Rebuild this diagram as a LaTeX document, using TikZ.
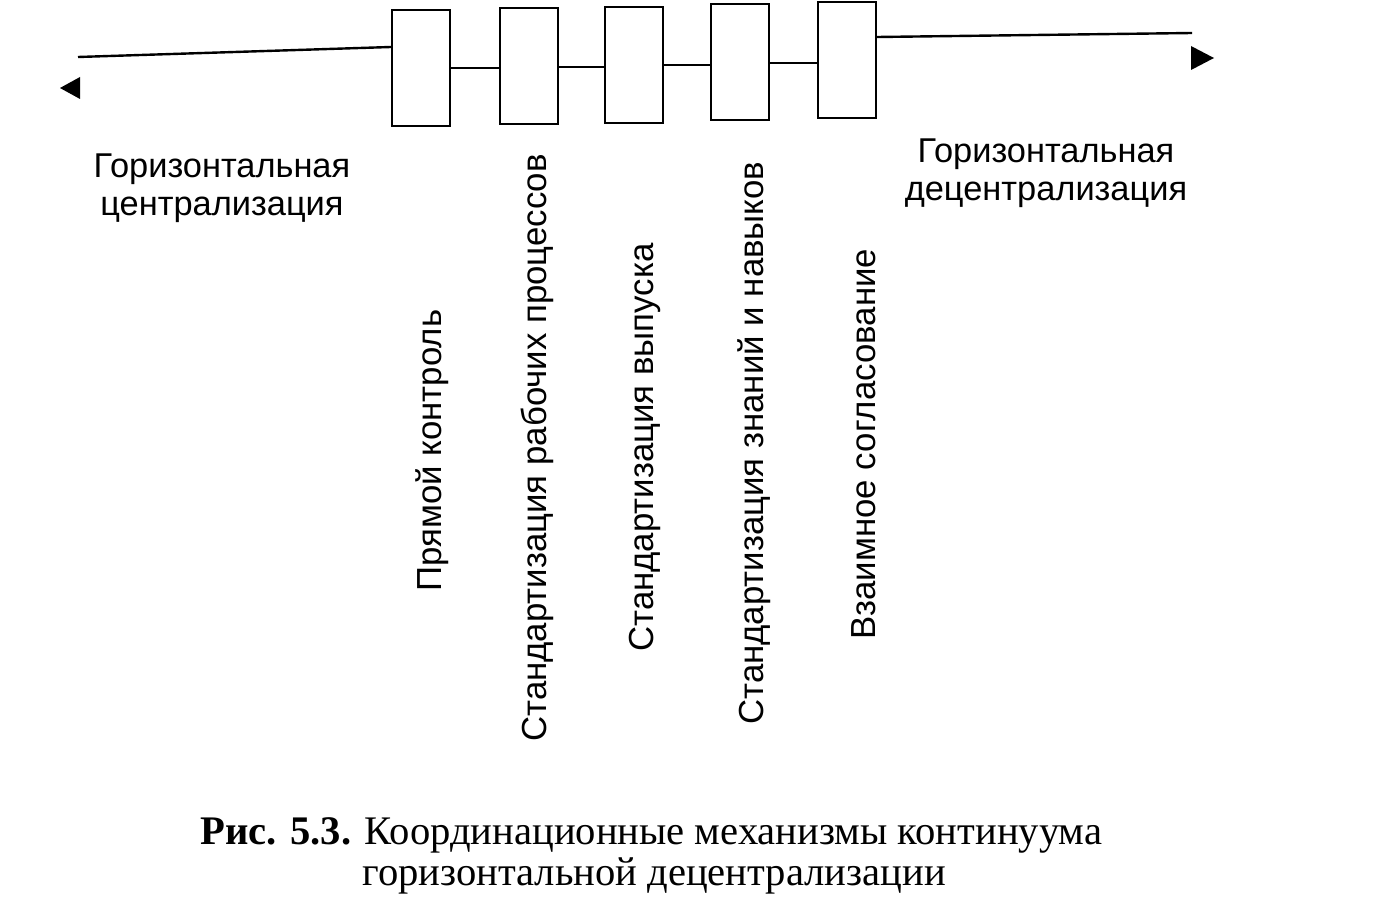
\documentclass[tikz,border=0pt]{standalone}
\usepackage{fontspec}
\setmainfont{Liberation Serif}
\newfontfamily\lsans{Liberation Sans}
\begin{document}
\begin{tikzpicture}[x=0.5pt,y=-0.5pt,
  box/.style={draw,line width=1.2pt,minimum width=29pt,minimum height=58pt,inner sep=0pt},
  lab/.style={rotate=90,anchor=west,font=\lsans\fontsize{17.4}{20}\selectfont,inner sep=0pt},
  side/.style={font=\lsans\fontsize{17.2}{19}\selectfont,align=center},
  ln/.style={line width=1.2pt}]
\useasboundingbox (0,0) rectangle (1392,920);
\node[box] (b1) at (421,68) {};
\node[box] (b2) at (529,66) {};
\node[box] (b3) at (634,65) {};
\node[box] (b4) at (740,62) {};
\node[box] (b5) at (847,60) {};
\draw[ln] (b1.east |- 0,68) -- (b2.west |- 0,68);
\draw[ln] (b2.east |- 0,67) -- (b3.west |- 0,67);
\draw[ln] (b3.east |- 0,65) -- (b4.west |- 0,65);
\draw[ln] (b4.east |- 0,63) -- (b5.west |- 0,63);
\coordinate (le) at (78,57);
\coordinate (re) at (1192,33);
\draw[ln] (b1.west |- 0,47) -- (le);
\draw[ln] (b5.east |- 0,37) -- (re);
\fill (60,88) -- (80,77) -- (80,99) -- cycle;
\fill (1214,58) -- (1191,46) -- (1191,70) -- cycle;
\node[side] (lt) at (222,188) {Горизонтальная\\централизация};
\node[side] (rt) at (1046,173) {Горизонтальная\\децентрализация};
\node[lab] (t1) at (432,592) {Прямой контроль};
\node[lab] (t2) at (537,742) {Стандартизация рабочих процессов};
\node[lab] (t3) at (645,652) {Стандартизация выпуска};
\node[lab] (t4) at (754,725) {Стандартизация знаний и навыков};
\node[lab] (t5) at (864,640) {Взаимное согласование};
\node[anchor=west,font=\fontsize{20.3}{23}\selectfont,inner sep=0pt] (c1) at (200,835) {\textbf{Рис. 5.3.} Координационные механизмы континуума};
\node[anchor=west,font=\fontsize{20.3}{23}\selectfont,inner sep=0pt] (c2) at (362,876) {горизонтальной децентрализации};
\end{tikzpicture}
\end{document}
